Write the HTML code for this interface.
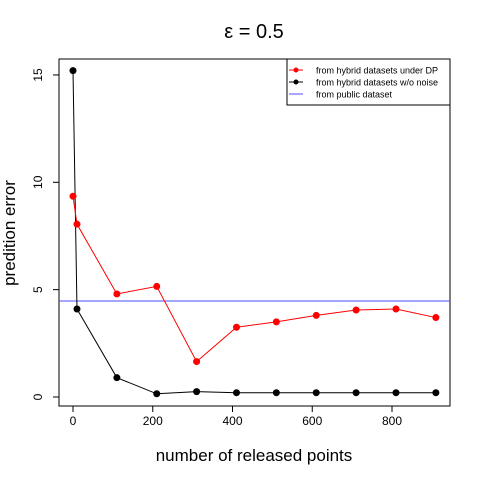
<!DOCTYPE html>
<html><head><meta charset="utf-8"><style>
body{margin:0;background:#fff}
svg{display:block;font-family:"Liberation Sans",Arial,sans-serif}
</style></head><body>
<svg id="chart" width="480" height="480" viewBox="0 0 480 480">
<rect x="0" y="0" width="480" height="480" fill="#fff"/>
<text x="254" y="38" font-size="20" text-anchor="middle">ε = 0.5</text>
<rect x="59" y="59" width="391" height="347" fill="none" stroke="#000" stroke-width="1"/>
<g id="xaxis"></g>
<g id="yaxis"></g>
<text x="254" y="461" font-size="17" text-anchor="middle">number of released points</text>
<text transform="translate(15,233) rotate(-90)" font-size="17" text-anchor="middle">predition error</text>
<g id="series"></g>
<g>
<rect x="287" y="59" width="163" height="46" fill="#fff" stroke="#000" stroke-width="1"/>
<line x1="289" y1="70" x2="303" y2="70" stroke="red"/><circle cx="296" cy="70" r="2.5" fill="red"/>
<text x="316" y="73.5" font-size="9">from hybrid datasets under DP</text>
<line x1="289" y1="82" x2="303" y2="82" stroke="#000"/><circle cx="296" cy="82" r="2.5" fill="#000"/>
<text x="316" y="85.5" font-size="9">from hybrid datasets w/o noise</text>
<line x1="289" y1="94" x2="303" y2="94" stroke="#4d4dff"/>
<text x="316" y="97.5" font-size="9">from public dataset</text>
</g>
</svg>
<script>
const xs = [0,10,110,210,310,410,510,610,710,810,910];
const redVals = [9.35,8.05,4.8,5.15,1.65,3.25,3.5,3.8,4.05,4.1,3.7];
const blackVals = [15.2,4.1,0.9,0.15,0.25,0.2,0.2,0.2,0.2,0.2,0.2];
const publicVal = 4.45;
const xTicks = [0,200,400,600,800];
const yTicks = [0,5,10,15];
const NS="http://www.w3.org/2000/svg";
const sx=v=>73+v*0.39875;
const sy=v=>397-v*21.47;
function mk(tag,attrs,parent){const e=document.createElementNS(NS,tag);for(const k in attrs)e.setAttribute(k,attrs[k]);parent.appendChild(e);return e;}
const xa=document.getElementById('xaxis'),ya=document.getElementById('yaxis'),sg=document.getElementById('series');
mk('line',{x1:sx(0),x2:sx(800),y1:406,y2:406,stroke:'#000'},xa);
xTicks.forEach(t=>{mk('line',{x1:sx(t),x2:sx(t),y1:406,y2:412,stroke:'#000'},xa);
const tx=mk('text',{x:sx(t),y:425,'font-size':12,'text-anchor':'middle'},xa);tx.textContent=t;

});
yTicks.forEach(t=>{mk('line',{x1:53,x2:59,y1:sy(t),y2:sy(t),stroke:'#000'},ya);
const tx=mk('text',{transform:`translate(42,${sy(t)}) rotate(-90)`,'font-size':12,'text-anchor':'middle'},ya);tx.textContent=t;

});
const hy=Math.round(sy(publicVal));
const hl=mk('line',{x1:59,x2:450,y1:hy,y2:hy,stroke:'#4d4dff','stroke-width':1},sg);


function series(vals,col,name){
const p=mk('polyline',{points:xs.map((x,i)=>sx(x)+','+sy(vals[i])).join(' '),fill:'none',stroke:col},sg);


vals.forEach((v,i)=>{const c=mk('circle',{cx:sx(xs[i]),cy:sy(v),r:3.5,fill:col},sg);

});}
series(blackVals,'#000','no-noise');
series(redVals,'red','dp');
</script>
</body></html>
